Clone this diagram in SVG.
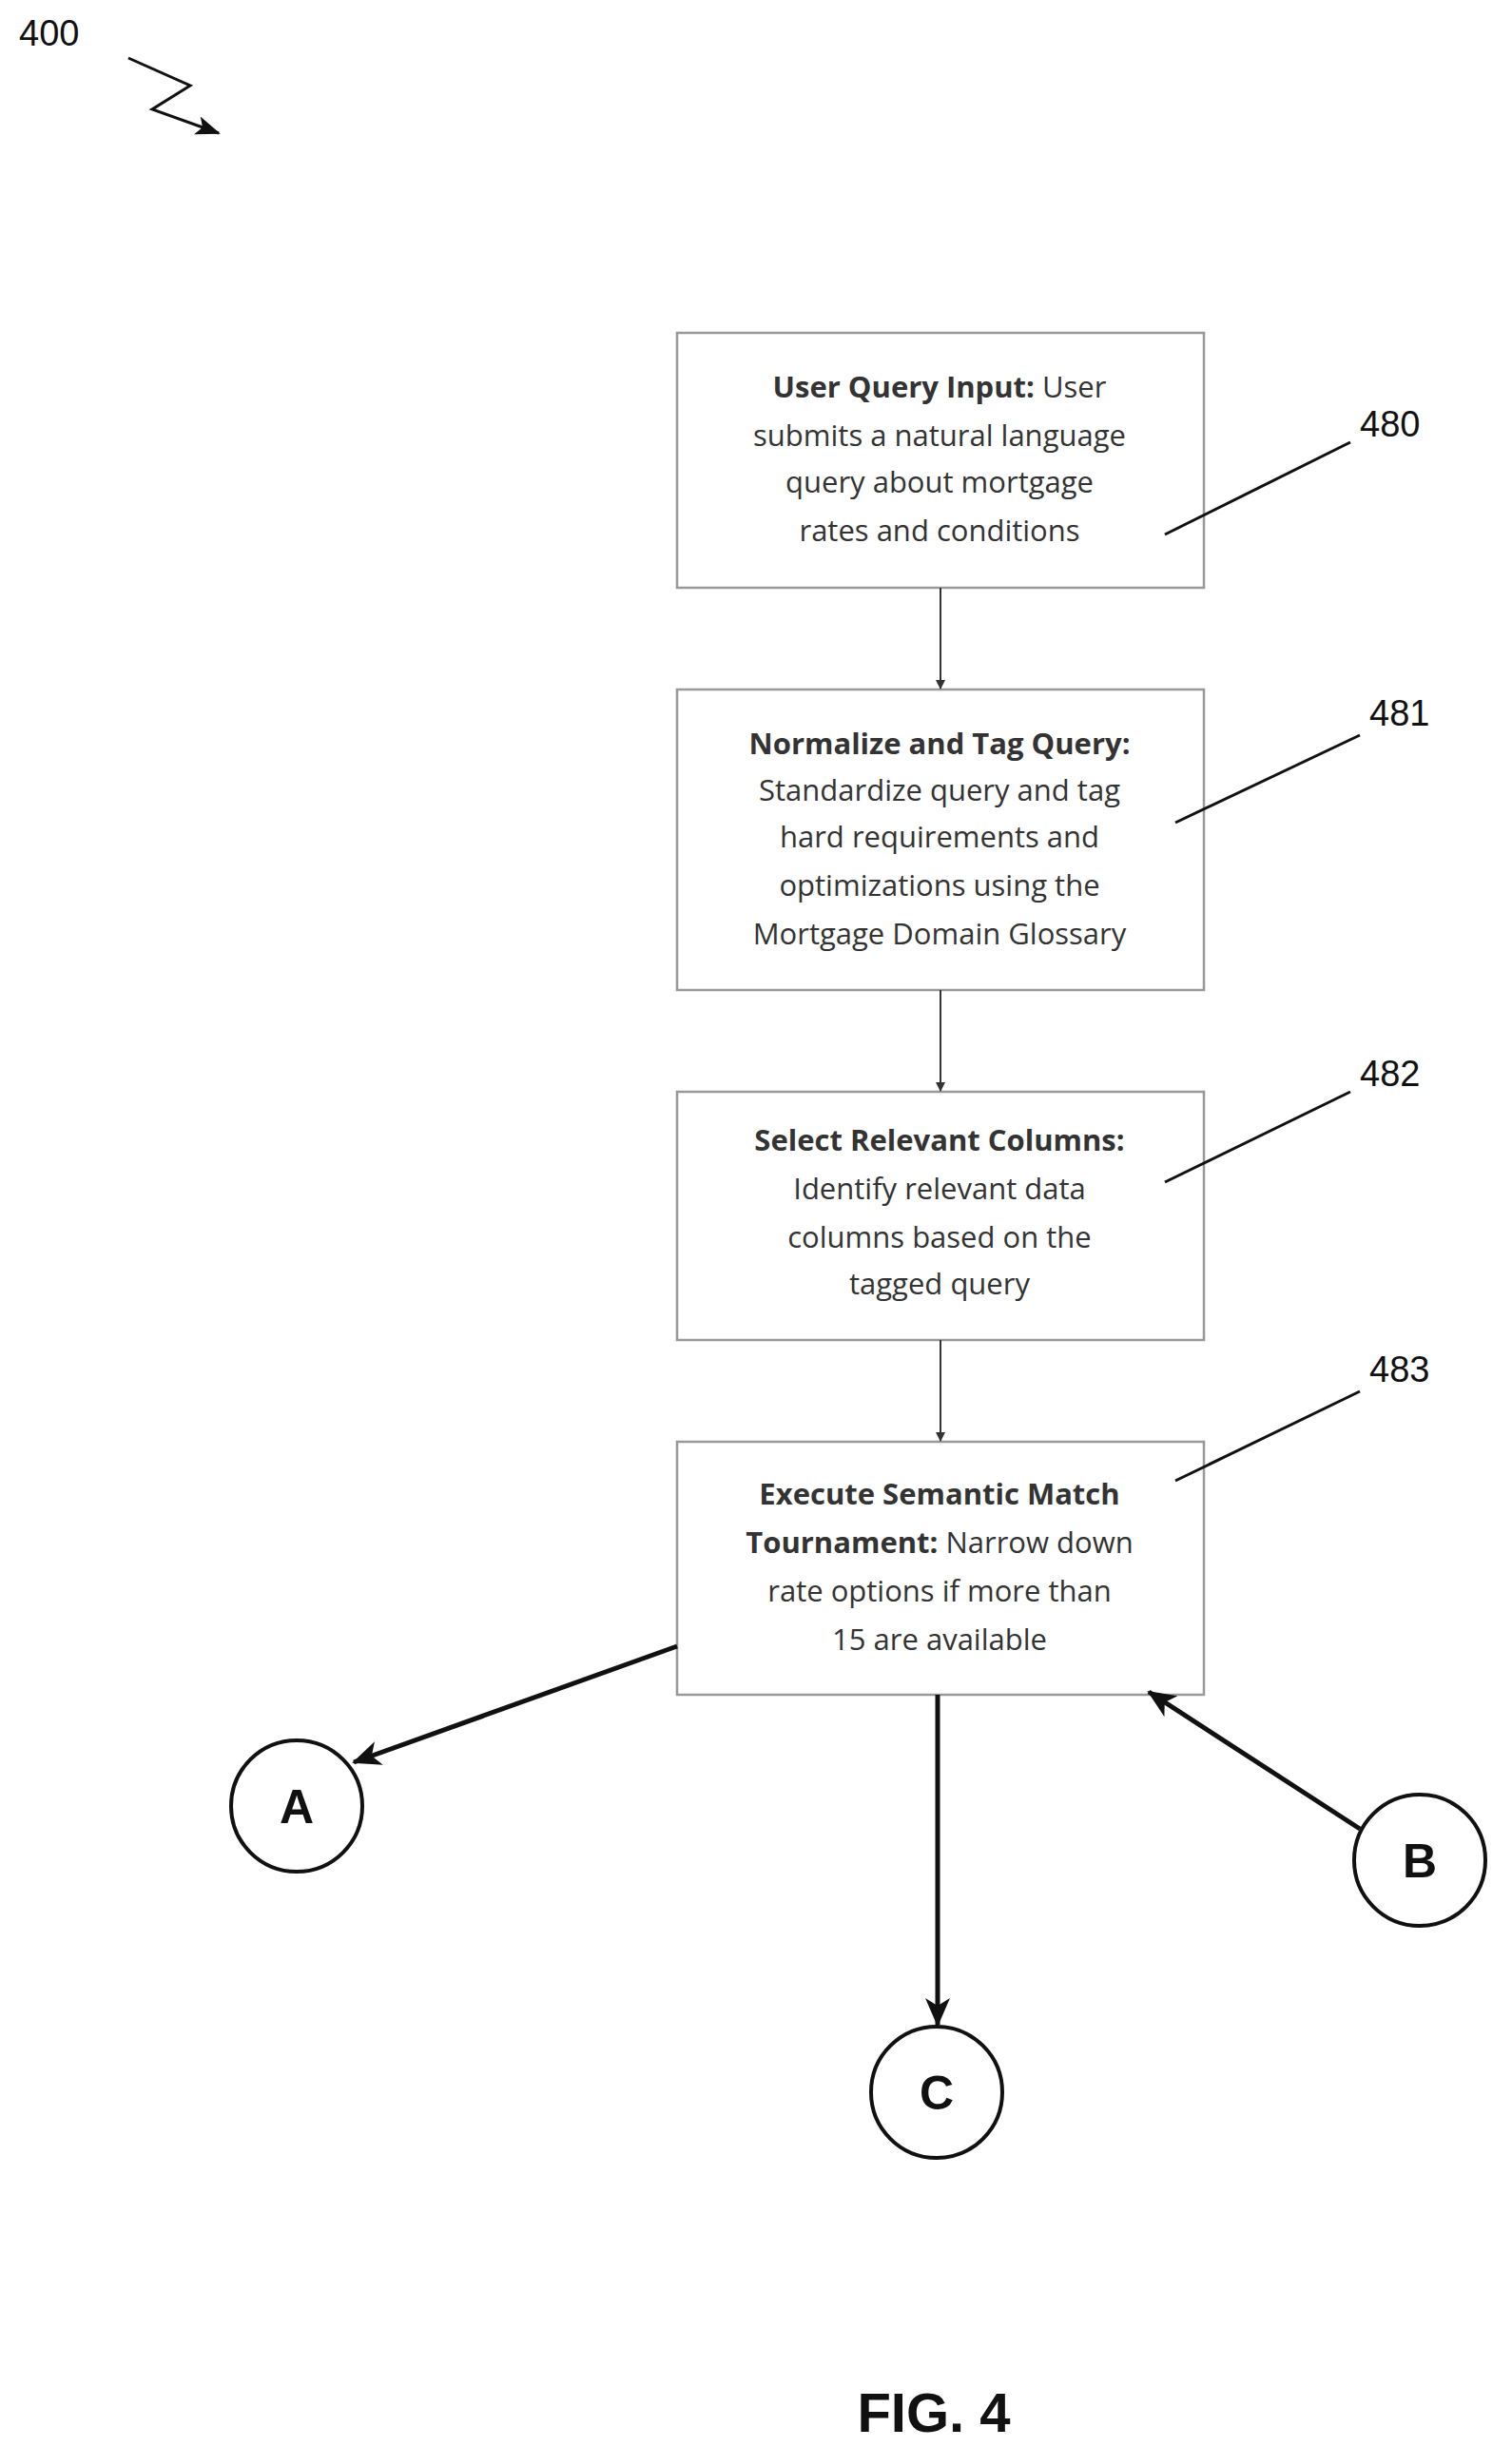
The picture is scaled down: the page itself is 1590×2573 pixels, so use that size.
<svg xmlns="http://www.w3.org/2000/svg" width="1590" height="2573" viewBox="0 0 1590 2573">
<style>
.box{fill:#fff;stroke:#999;stroke-width:2.5}
.t{font-family:"Open Sans","DejaVu Sans",sans-serif;font-size:31px;fill:#333;text-anchor:middle}
.b{font-weight:bold}
.lbl{font-family:"Liberation Sans",Arial,sans-serif;font-size:38px;fill:#111}
.lead{stroke:#111;stroke-width:3;fill:none}
.thin{stroke:#333;stroke-width:2;fill:none}
.thick{stroke:#111;stroke-width:5;fill:none}
.circ{fill:#fff;stroke:#111;stroke-width:4}
.ct{font-family:"Liberation Sans",Arial,sans-serif;font-size:50px;font-weight:bold;text-anchor:middle;fill:#111}
</style>
<defs>
<marker id="ah" markerWidth="10" markerHeight="10" refX="9" refY="5" orient="auto" markerUnits="userSpaceOnUse"><path d="M0,0 L10,5 L0,10 z" fill="#333"/></marker>
<marker id="ahb" markerWidth="30" markerHeight="26" refX="28" refY="13" orient="auto" markerUnits="userSpaceOnUse"><path d="M0,0 L30,13 L0,26 L8,13 z" fill="#111"/></marker>
<marker id="ahz" markerWidth="26" markerHeight="20" refX="24" refY="10" orient="auto" markerUnits="userSpaceOnUse"><path d="M0,0 L26,10 L0,20 L6,10 z" fill="#111"/></marker>
</defs>
<text class="lbl" x="20" y="48">400</text>
<polyline class="lead" points="135,61 200,90 160,115 230,140" marker-end="url(#ahz)"/>
<g id="n480"><rect class="box" x="712" y="350" width="554" height="268"/>
<text class="t" x="988" y="418"><tspan class="b">User Query Input:</tspan> User</text>
<text class="t" x="988" y="469">submits a natural language</text>
<text class="t" x="988" y="518">query about mortgage</text>
<text class="t" x="988" y="569">rates and conditions</text></g>
<g id="n481"><rect class="box" x="712" y="725" width="554" height="316"/>
<text class="t b" x="988" y="793">Normalize and Tag Query:</text>
<text class="t" x="988" y="842">Standardize query and tag</text>
<text class="t" x="988" y="891">hard requirements and</text>
<text class="t" x="988" y="942">optimizations using the</text>
<text class="t" x="988" y="993">Mortgage Domain Glossary</text></g>
<g id="n482"><rect class="box" x="712" y="1148" width="554" height="261"/>
<text class="t b" x="988" y="1210">Select Relevant Columns:</text>
<text class="t" x="988" y="1261">Identify relevant data</text>
<text class="t" x="988" y="1312">columns based on the</text>
<text class="t" x="988" y="1361">tagged query</text></g>
<g id="n483"><rect class="box" x="712" y="1516" width="554" height="266"/>
<text class="t b" x="988" y="1582">Execute Semantic Match</text>
<text class="t" x="988" y="1633"><tspan class="b">Tournament:</tspan> Narrow down</text>
<text class="t" x="988" y="1684">rate options if more than</text>
<text class="t" x="988" y="1735">15 are available</text></g>
<g id="A"><circle class="circ" cx="312" cy="1899" r="69"/><text class="ct" x="312" y="1917">A</text></g>
<g id="B"><circle class="circ" cx="1493" cy="1956" r="69"/><text class="ct" x="1493" y="1974">B</text></g>
<g id="C"><circle class="circ" cx="985" cy="2200" r="69"/><text class="ct" x="985" y="2218">C</text></g>
<g id="labels">
<text class="lbl" x="1430" y="459">480</text><line class="lead" x1="1225" y1="562" x2="1420" y2="465"/>
<text class="lbl" x="1440" y="763">481</text><line class="lead" x1="1236" y1="865" x2="1430" y2="773"/>
<text class="lbl" x="1430" y="1142">482</text><line class="lead" x1="1225" y1="1243" x2="1420" y2="1148"/>
<text class="lbl" x="1440" y="1453">483</text><line class="lead" x1="1236" y1="1557" x2="1430" y2="1463"/>
</g>
<g id="connectors">
<line class="thin" x1="989" y1="618" x2="989" y2="724" marker-end="url(#ah)"/>
<line class="thin" x1="989" y1="1041" x2="989" y2="1147" marker-end="url(#ah)"/>
<line class="thin" x1="989" y1="1409" x2="989" y2="1515" marker-end="url(#ah)"/>
<line class="thick" x1="712" y1="1731" x2="372" y2="1853" marker-end="url(#ahb)"/>
<line class="thick" x1="1430" y1="1923" x2="1208" y2="1779" marker-end="url(#ahb)"/>
<line class="thick" x1="986" y1="1782" x2="986" y2="2129" marker-end="url(#ahb)"/>
</g>
<text x="982" y="2557" text-anchor="middle" font-family="Liberation Sans,Arial,sans-serif" font-weight="bold" font-size="58" fill="#111">FIG. 4</text>
</svg>
